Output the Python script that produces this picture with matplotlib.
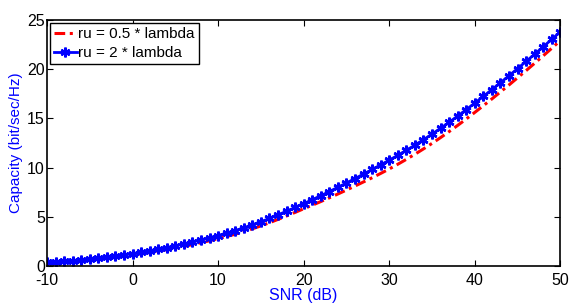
import matplotlib
matplotlib.use("Agg")
import matplotlib.pyplot as plt

plt.rcParams['font.family'] = ['Liberation Sans', 'DejaVu Sans']
plt.rcParams['axes.unicode_minus'] = False

# ---------- data ----------
snr_db = list(range(-10, 51))

cap_ru_half = [0.35, 0.39, 0.45, 0.50, 0.57, 0.64, 0.72, 0.81, 0.91, 1.02,
               1.13, 1.25, 1.38, 1.52, 1.67, 1.83, 2.00, 2.18, 2.37, 2.57,
               2.78, 3.00, 3.24, 3.50, 3.78, 4.08, 4.40, 4.74, 5.09, 5.45,
               5.82, 6.18, 6.55, 6.93, 7.32, 7.72, 8.13, 8.55, 8.97, 9.41,
               9.86, 10.34, 10.84, 11.36, 11.90, 12.46, 13.05, 13.66, 14.29, 14.94,
               15.61, 16.29, 16.98, 17.69, 18.40, 19.13, 19.86, 20.61, 21.36, 22.13,
               22.91]

cap_ru_two = [0.38, 0.43, 0.49, 0.55, 0.62, 0.70, 0.79, 0.89, 1.00, 1.12,
              1.25, 1.39, 1.54, 1.70, 1.87, 2.05, 2.24, 2.44, 2.65, 2.87,
              3.10, 3.34, 3.60, 3.88, 4.18, 4.50, 4.84, 5.20, 5.57, 5.95,
              6.34, 6.74, 7.15, 7.57, 8.00, 8.44, 8.89, 9.35, 9.81, 10.28,
              10.76, 11.25, 11.76, 12.29, 12.84, 13.41, 14.00, 14.61, 15.24, 15.89,
              16.56, 17.24, 17.93, 18.63, 19.34, 20.06, 20.79, 21.53, 22.28, 23.04,
              23.81]

labels = ['ru = 0.5 * lambda', 'ru = 2 * lambda']
x_ticks = [-10, 0, 10, 20, 30, 40, 50]
y_ticks = [0, 5, 10, 15, 20, 25]

# ---------- plot ----------
fig = plt.figure(figsize=(5.71, 3.03), dpi=100)
ax = fig.add_axes([0.0823, 0.122, 0.899, 0.812])

ax.plot(snr_db, cap_ru_half, color='red', linestyle=(0, (3.5, 1.5, 1, 1.5)),
        linewidth=2.2, label=labels[0])
ax.plot(snr_db, cap_ru_two, color='blue', linestyle='-', linewidth=2.0,
        marker=(6, 2, 0), markersize=7, markeredgewidth=1.8, label=labels[1])

ax.set_xlim(-10, 50)
ax.set_ylim(0, 25)
ax.set_xticks(x_ticks)
ax.set_yticks(y_ticks)
ax.tick_params(direction='in', top=True, right=True, labelsize=11.5,
               length=4, width=0.8)
ax.tick_params(axis='x', pad=5)
ax.tick_params(axis='y', pad=1.5)
for s in ax.spines.values():
    s.set_linewidth(1.2)

ax.set_xlabel('SNR (dB)', color='blue', fontsize=11.5, labelpad=0)
ax.set_ylabel('Capacity (bit/sec/Hz)', color='blue', fontsize=11, labelpad=3)

leg = ax.legend(loc='upper left', fontsize=11, handlelength=1.5,
                handletextpad=0.1, borderpad=0.25, labelspacing=0.35,
                borderaxespad=0.2, fancybox=False, framealpha=1)
leg.get_frame().set_edgecolor('black')
leg.get_frame().set_linewidth(1.0)

fig.savefig('out.png', dpi=100)
